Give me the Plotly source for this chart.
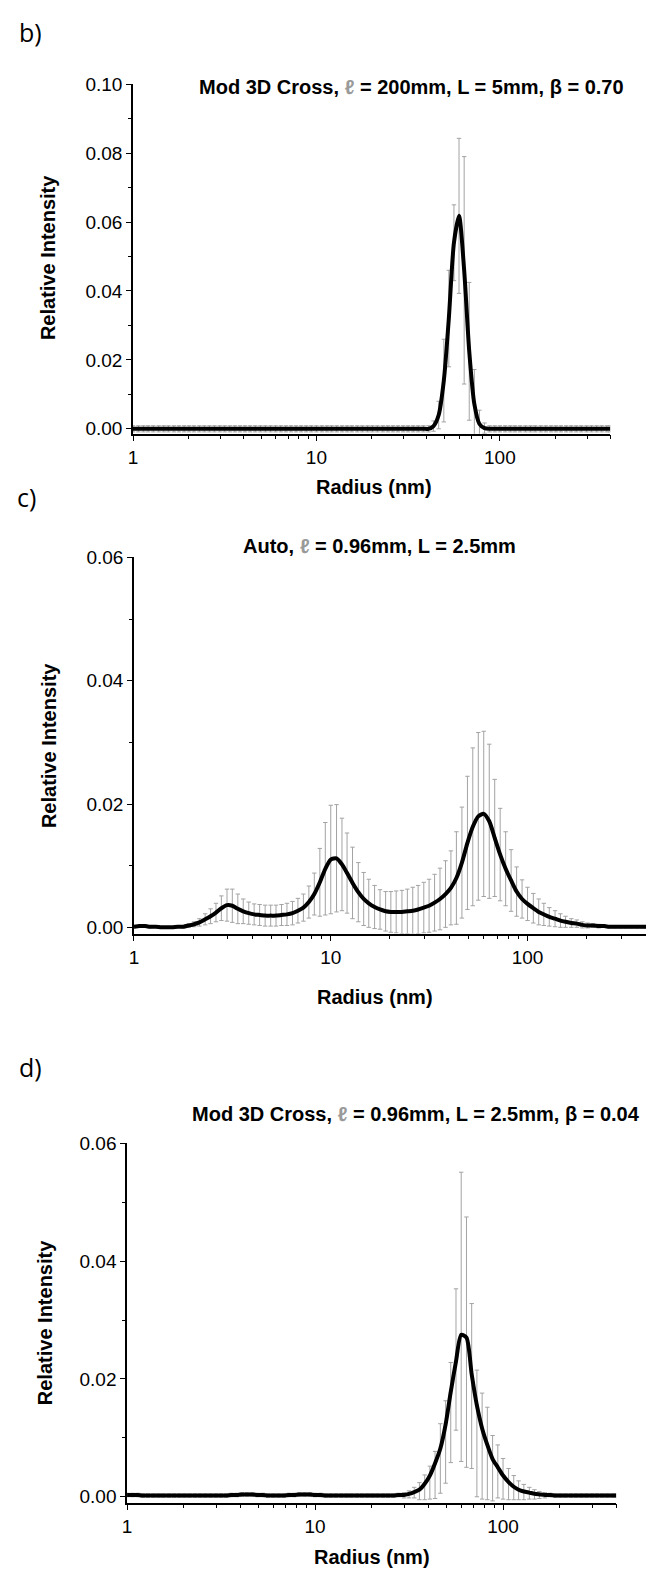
import math
import plotly.graph_objects as go

# ---------------- data ----------------
radius_nm = [
    1.00, 1.07, 1.14, 1.21, 1.29, 1.38, 1.47, 1.56, 1.67, 1.78, 1.90, 2.02,
    2.15, 2.30, 2.45, 2.61, 2.78, 2.97, 3.16, 3.37, 3.59, 3.83, 4.08, 4.35,
    4.64, 4.95, 5.27, 5.62, 5.99, 6.39, 6.81, 7.26, 7.74, 8.25, 8.80, 9.38,
    10.0, 10.7, 11.4, 12.1, 12.9, 13.8, 14.7, 15.6, 16.7, 17.8, 19.0, 20.2,
    21.5, 23.0, 24.5, 26.1, 27.8, 29.7, 31.6, 33.7, 35.9, 38.3, 40.8, 43.5,
    46.4, 49.5, 52.7, 56.2, 59.9, 63.9, 68.1, 72.6, 77.4, 82.5, 88.0, 93.8,
    100, 107, 114, 121, 129, 138, 147, 156, 167, 178, 190, 202,
    215, 230, 245, 261, 278, 297, 316, 337, 359, 383, 400,
]

# panel b) Mod 3D Cross, l = 200mm
b_intensity = [
    0.0, 0.0, 0.0, 0.0, 0.0, 0.0, 0.0, 0.0, 0.0, 0.0, 0.0, 0.0,
    0.0, 0.0, 0.0, 0.0, 0.0, 0.0, 0.0, 0.0, 0.0, 0.0, 0.0, 0.0,
    0.0, 0.0, 0.0, 0.0, 0.0, 0.0, 0.0, 0.0, 0.0, 0.0, 0.0, 0.0,
    0.0, 0.0, 0.0, 0.0, 0.0, 0.0, 0.0, 0.0, 0.0, 0.0, 0.0, 0.0,
    0.0, 0.0, 0.0, 0.0, 0.0, 0.0, 0.0, 0.0, 0.0, 0.0, 0.0, 0.0008,
    0.0040, 0.0140, 0.0320, 0.0540, 0.0618, 0.0460, 0.0225, 0.0072, 0.0014, 0.0002, 0.0, 0.0,
    0.0, 0.0, 0.0, 0.0, 0.0, 0.0, 0.0, 0.0, 0.0, 0.0, 0.0, 0.0,
    0.0, 0.0, 0.0, 0.0, 0.0, 0.0, 0.0, 0.0, 0.0, 0.0, 0.0,
]
b_error = [
    0.0009, 0.0009, 0.0009, 0.0009, 0.0009, 0.0009, 0.0009, 0.0009, 0.0009, 0.0009, 0.0009, 0.0009,
    0.0009, 0.0009, 0.0009, 0.0009, 0.0009, 0.0009, 0.0009, 0.0009, 0.0009, 0.0009, 0.0009, 0.0009,
    0.0009, 0.0009, 0.0009, 0.0009, 0.0009, 0.0009, 0.0009, 0.0009, 0.0009, 0.0009, 0.0009, 0.0009,
    0.0009, 0.0009, 0.0009, 0.0009, 0.0009, 0.0009, 0.0009, 0.0009, 0.0009, 0.0009, 0.0009, 0.0009,
    0.0009, 0.0009, 0.0009, 0.0009, 0.0009, 0.0009, 0.0009, 0.0009, 0.0009, 0.0009, 0.0009, 0.0015,
    0.0040, 0.0120, 0.0140, 0.0110, 0.0225, 0.0330, 0.0200, 0.0100, 0.0040, 0.0015, 0.0009, 0.0009,
    0.0009, 0.0009, 0.0009, 0.0009, 0.0009, 0.0009, 0.0009, 0.0009, 0.0009, 0.0009, 0.0009, 0.0009,
    0.0009, 0.0009, 0.0009, 0.0009, 0.0009, 0.0009, 0.0009, 0.0009, 0.0009, 0.0009, 0.0009,
]

# panel c) Auto, l = 0.96mm
c_intensity = [
    0.0001, 0.0002, 0.0002, 0.0001, 0.0001, 0.0000, 0.0000, 0.0000, 0.0001, 0.0001, 0.0003, 0.0005,
    0.0008, 0.0013, 0.0018, 0.0024, 0.0031, 0.0036, 0.0035, 0.0030, 0.0026, 0.0023, 0.0021, 0.0020,
    0.0019, 0.0019, 0.0019, 0.0020, 0.0021, 0.0023, 0.0027, 0.0032, 0.0041, 0.0054, 0.0073, 0.0095,
    0.0110, 0.0112, 0.0102, 0.0088, 0.0072, 0.0057, 0.0046, 0.0039, 0.0033, 0.0029, 0.0026, 0.0025,
    0.0025, 0.0025, 0.0026, 0.0027, 0.0029, 0.0032, 0.0035, 0.0040, 0.0046, 0.0054, 0.0064, 0.0080,
    0.0105, 0.0137, 0.0163, 0.0180, 0.0184, 0.0172, 0.0145, 0.0118, 0.0095, 0.0076, 0.0058, 0.0046,
    0.0038, 0.0031, 0.0025, 0.0021, 0.0017, 0.0014, 0.0011, 0.0009, 0.0007, 0.0006, 0.0004, 0.0003,
    0.0003, 0.0002, 0.0002, 0.0001, 0.0001, 0.0001, 0.0001, 0.0001, 0.0001, 0.0001, 0.0001,
]
c_error = [
    0.0002, 0.0002, 0.0002, 0.0002, 0.0001, 0.0001, 0.0001, 0.0001, 0.0001, 0.0002, 0.0003, 0.0004,
    0.0006, 0.0009, 0.0012, 0.0015, 0.0020, 0.0026, 0.0027, 0.0024, 0.0020, 0.0018, 0.0017, 0.0017,
    0.0017, 0.0017, 0.0017, 0.0017, 0.0018, 0.0019, 0.0020, 0.0022, 0.0026, 0.0034, 0.0055, 0.0075,
    0.0088, 0.0087, 0.0075, 0.0065, 0.0058, 0.0048, 0.0043, 0.0039, 0.0035, 0.0032, 0.0032, 0.0033,
    0.0034, 0.0035, 0.0036, 0.0038, 0.0039, 0.0041, 0.0043, 0.0046, 0.0050, 0.0054, 0.0060, 0.0075,
    0.0090, 0.0108, 0.0128, 0.0136, 0.0134, 0.0125, 0.0095, 0.0075, 0.0060, 0.0050, 0.0040, 0.0031,
    0.0027, 0.0024, 0.0021, 0.0018, 0.0015, 0.0013, 0.0011, 0.0009, 0.0007, 0.0006, 0.0005, 0.0004,
    0.0003, 0.0003, 0.0002, 0.0002, 0.0002, 0.0002, 0.0002, 0.0002, 0.0002, 0.0002, 0.0002,
]

# panel d) Mod 3D Cross, l = 0.96mm
d_intensity = [
    0.0003, 0.0003, 0.0003, 0.0002, 0.0002, 0.0002, 0.0002, 0.0002, 0.0002, 0.0002, 0.0002, 0.0002,
    0.0002, 0.0002, 0.0002, 0.0002, 0.0002, 0.0002, 0.0002, 0.0002, 0.0003, 0.0003, 0.0004, 0.0004,
    0.0004, 0.0003, 0.0003, 0.0002, 0.0002, 0.0002, 0.0002, 0.0003, 0.0003, 0.0004, 0.0004, 0.0004,
    0.0003, 0.0003, 0.0002, 0.0002, 0.0002, 0.0002, 0.0002, 0.0002, 0.0002, 0.0002, 0.0002, 0.0002,
    0.0002, 0.0002, 0.0002, 0.0002, 0.0003, 0.0003, 0.0005, 0.0008, 0.0012, 0.0022, 0.0036, 0.0057,
    0.0082, 0.0123, 0.0178, 0.0230, 0.0275, 0.0270, 0.0208, 0.0155, 0.0116, 0.0088, 0.0064, 0.0050,
    0.0036, 0.0025, 0.0017, 0.0012, 0.0009, 0.0007, 0.0005, 0.0004, 0.0003, 0.0003, 0.0002, 0.0002,
    0.0002, 0.0002, 0.0002, 0.0002, 0.0002, 0.0002, 0.0002, 0.0002, 0.0002, 0.0002, 0.0002,
]
d_error_up = [
    0.0003, 0.0003, 0.0003, 0.0003, 0.0003, 0.0003, 0.0003, 0.0003, 0.0003, 0.0003, 0.0003, 0.0003,
    0.0003, 0.0003, 0.0003, 0.0003, 0.0003, 0.0003, 0.0003, 0.0003, 0.0003, 0.0003, 0.0003, 0.0003,
    0.0003, 0.0003, 0.0003, 0.0003, 0.0003, 0.0003, 0.0003, 0.0003, 0.0003, 0.0003, 0.0003, 0.0003,
    0.0003, 0.0003, 0.0003, 0.0003, 0.0003, 0.0003, 0.0003, 0.0003, 0.0003, 0.0003, 0.0003, 0.0003,
    0.0003, 0.0003, 0.0003, 0.0003, 0.0003, 0.0004, 0.0005, 0.0008, 0.0012, 0.0015, 0.0016, 0.0020,
    0.0042, 0.0040, 0.0050, 0.0123, 0.0276, 0.0205, 0.0120, 0.0060, 0.0060, 0.0064, 0.0040, 0.0038,
    0.0029, 0.0023, 0.0019, 0.0015, 0.0012, 0.0009, 0.0007, 0.0005, 0.0004, 0.0003, 0.0003, 0.0003,
    0.0003, 0.0003, 0.0003, 0.0003, 0.0003, 0.0003, 0.0003, 0.0003, 0.0003, 0.0003, 0.0003,
]
d_error_down = [
    0.0003, 0.0003, 0.0003, 0.0003, 0.0003, 0.0003, 0.0003, 0.0003, 0.0003, 0.0003, 0.0003, 0.0003,
    0.0003, 0.0003, 0.0003, 0.0003, 0.0003, 0.0003, 0.0003, 0.0003, 0.0003, 0.0003, 0.0003, 0.0003,
    0.0003, 0.0003, 0.0003, 0.0003, 0.0003, 0.0003, 0.0003, 0.0003, 0.0003, 0.0003, 0.0003, 0.0003,
    0.0003, 0.0003, 0.0003, 0.0003, 0.0003, 0.0003, 0.0003, 0.0003, 0.0003, 0.0003, 0.0003, 0.0003,
    0.0003, 0.0003, 0.0003, 0.0003, 0.0003, 0.0005, 0.0007, 0.0010, 0.0017, 0.0027, 0.0040, 0.0060,
    0.0076, 0.0100, 0.0120, 0.0117, 0.0215, 0.0220, 0.0160, 0.0155, 0.0120, 0.0093, 0.0071, 0.0052,
    0.0040, 0.0030, 0.0022, 0.0017, 0.0014, 0.0011, 0.0009, 0.0007, 0.0005, 0.0003, 0.0003, 0.0003,
    0.0003, 0.0003, 0.0003, 0.0003, 0.0003, 0.0003, 0.0003, 0.0003, 0.0003, 0.0003, 0.0003,
]

x_tick_vals = [1, 10, 100]
x_tick_text = ["1", "10", "100"]
x_minor_vals = [2, 3, 4, 5, 6, 7, 8, 9, 20, 30, 40, 50, 60, 70, 80, 90, 200, 300, 400]
x_max = 400

yb_tick_vals = [0.0, 0.02, 0.04, 0.06, 0.08, 0.10]
yb_tick_text = ["0.00", "0.02", "0.04", "0.06", "0.08", "0.10"]
yb_minor_vals = [0.01, 0.03, 0.05, 0.07, 0.09]
ycd_tick_vals = [0.0, 0.02, 0.04, 0.06]
ycd_tick_text = ["0.00", "0.02", "0.04", "0.06"]
ycd_minor_vals = [0.01, 0.03, 0.05]

titles = [
    "Mod 3D Cross, <span style='color:#9a9a9a'>ℓ</span> = 200mm, L = 5mm, β = 0.70",
    "Auto, <span style='color:#9a9a9a'>ℓ</span> = 0.96mm, L = 2.5mm",
    "Mod 3D Cross, <span style='color:#9a9a9a'>ℓ</span> = 0.96mm, L = 2.5mm, β = 0.04",
]
letters = ["b)", "c)", "d)"]
x_title = "Radius (nm)"
y_title = "Relative Intensity"

for arr in (b_intensity, b_error, c_intensity, c_error, d_intensity, d_error_up, d_error_down):
    assert len(arr) == len(radius_nm), len(arr)

# ---------------- layout geometry (pixels) ----------------
W, H = 646, 1572
FONT = "Liberation Sans, Arial, sans-serif"


def fx(p):
    return p / W


def fy(p):
    return 1 - p / H


panels = [
    dict(xd=(129, 610), yd=(75, 428), yr=(-0.0014, 0.10), tv=yb_tick_vals, tt=yb_tick_text, mv=yb_minor_vals,
         title_xy=(410, 78, "center"), letter_xy=(12, 22), ytitle_xy=(44, 250), xtitle_xy=(372, 482)),
    dict(xd=(130, 646), yd=(553, 933), yr=(-0.001, 0.06), tv=ycd_tick_vals, tt=ycd_tick_text, mv=ycd_minor_vals,
         title_xy=(377, 542, "center"), letter_xy=(10, 492), ytitle_xy=(45, 743), xtitle_xy=(373, 997)),
    dict(xd=(123, 616), yd=(1145, 1508), yr=(-0.001, 0.06), tv=ycd_tick_vals, tt=ycd_tick_text, mv=ycd_minor_vals,
         title_xy=(642, 1115, "right"), letter_xy=(12, 1068), ytitle_xy=(40, 1326), xtitle_xy=(370, 1563)),
]

series = [
    (b_intensity, b_error, b_error),
    (c_intensity, c_error, c_error),
    (d_intensity, d_error_up, d_error_down),
]

fig = go.Figure()
layout_axes = {}
annotations = []

for k, (p, (yv, eu, ed)) in enumerate(zip(panels, series)):
    sfx = "" if k == 0 else str(k + 1)
    xa, ya = "x" + sfx, "y" + sfx
    fig.add_trace(go.Scatter(
        x=radius_nm, y=yv, xaxis=xa, yaxis=ya, mode="markers",
        marker=dict(size=2, color="rgba(0,0,0,0)"),
        error_y=dict(type="data", symmetric=False, array=eu, arrayminus=ed,
                     color="#a3a3a3", thickness=1, width=2.2),
        showlegend=False, hoverinfo="skip"))
    fig.add_trace(go.Scatter(
        x=radius_nm, y=yv, xaxis=xa, yaxis=ya, mode="lines",
        line=dict(color="black", width=4, shape="spline", smoothing=0.7),
        showlegend=False))

    layout_axes["xaxis" + sfx] = dict(
        domain=[fx(p["xd"][0]), fx(p["xd"][1])], anchor=ya, type="log",
        range=[0, math.log10(x_max)], showline=True, linecolor="black", linewidth=1.5,
        ticks="outside", ticklen=6, tickwidth=1.3, tickcolor="black",
        tickmode="array", tickvals=x_tick_vals, ticktext=x_tick_text,
        tickfont=dict(family=FONT, size=19, color="black"),
        showgrid=False, zeroline=False,
        minor=dict(tickmode="array", tickvals=x_minor_vals, ticks="outside", ticklen=4,
                   tickwidth=1.2, tickcolor="black", showgrid=False))
    layout_axes["yaxis" + sfx] = dict(
        domain=[fy(p["yd"][1]), fy(p["yd"][0])], anchor=xa,
        range=list(p["yr"]), showline=True, linecolor="black", linewidth=1.5,
        ticks="outside", ticklen=5, tickwidth=1.3, tickcolor="black",
        tickmode="array", tickvals=p["tv"], ticktext=p["tt"],
        tickfont=dict(family=FONT, size=19, color="black"),
        showgrid=False, zeroline=False,
        minor=dict(tickmode="array", tickvals=p["mv"], ticks="outside", ticklen=3,
                   tickwidth=1.2, tickcolor="black", showgrid=False))

    tx, ty, tanchor = p["title_xy"]
    annotations.append(dict(x=fx(tx), y=fy(ty), xref="paper", yref="paper", xanchor=tanchor,
                            yanchor="middle", showarrow=False, text="<b>" + titles[k] + "</b>",
                            font=dict(family=FONT, size=20, color="black")))
    lx, ly = p["letter_xy"]
    annotations.append(dict(x=fx(lx), y=fy(ly), xref="paper", yref="paper", xanchor="left",
                            yanchor="middle", showarrow=False, text=letters[k],
                            font=dict(family="Open Sans, DejaVu Sans, sans-serif", size=25, color="black")))
    yx, yy = p["ytitle_xy"]
    annotations.append(dict(x=fx(yx), y=fy(yy), xref="paper", yref="paper", xanchor="center",
                            yanchor="middle", showarrow=False, textangle=-90, text="<b>" + y_title + "</b>",
                            font=dict(family=FONT, size=20, color="black")))
    xx, xy = p["xtitle_xy"]
    annotations.append(dict(x=fx(xx), y=fy(xy), xref="paper", yref="paper", xanchor="center",
                            yanchor="middle", showarrow=False, text="<b>" + x_title + "</b>",
                            font=dict(family=FONT, size=20, color="black")))

fig.update_layout(
    width=W, height=H, margin=dict(l=0, r=0, t=0, b=0),
    paper_bgcolor="white", plot_bgcolor="white", showlegend=False,
    annotations=annotations, **layout_axes)

# remove the browser's default 8px body margin so the figure fills the window exactly
fig.write_html(
    "out.html",
    config={"displayModeBar": False},
    post_script="document.body.style.margin='0px';document.body.style.padding='0px';"
                "document.body.style.overflow='hidden';",
)
